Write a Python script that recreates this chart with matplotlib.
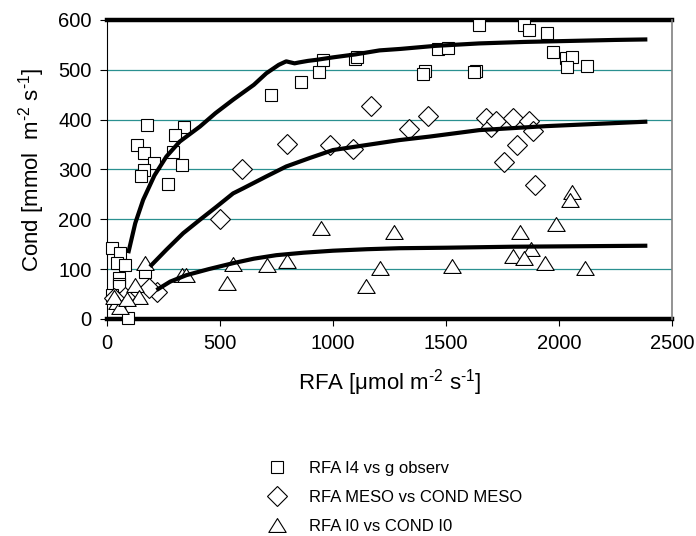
import matplotlib.pyplot as plt
from matplotlib.lines import Line2D
from matplotlib.path import Path

plt.rcParams['font.family'] = ['Liberation Sans', 'DejaVu Sans']
plt.rcParams['mathtext.default'] = 'regular'

# observed points
i4_x = [22, 59, 44, 81, 52, 52, 52, 22, 95, 170, 175, 340, 300, 131, 165, 209, 290, 330,
        165, 150, 271, 727, 857, 936, 958, 1098, 1105, 1463, 1508, 1405, 1397, 1633, 1625,
        1645, 1846, 1868, 1945, 1974, 2030, 2056, 2034, 2126]
i4_y = [142, 132, 112, 108, 82, 71, 66, 48, 1, 95, 389, 386, 369, 350, 334, 314, 336, 310,
        298, 287, 270, 450, 476, 496, 520, 521, 525, 541, 544, 498, 492, 498, 496,
        590, 590, 580, 573, 535, 523, 525, 506, 508]

meso_x = [221, 184, 81, 30, 499, 599, 798, 988, 1088, 1169, 1338, 1419, 1677, 1699, 1721,
          1795, 1868, 1886, 1813, 1758, 1895]
meso_y = [55, 62, 45, 42, 200, 300, 351, 349, 341, 427, 381, 408, 403, 386, 398,
          403, 398, 378, 350, 316, 269]

i0_x = [170, 125, 140, 44, 59, 29, 88, 330, 349, 529, 558, 708, 798, 948, 1147, 1206, 1268,
        1527, 1827, 1875, 1795, 1846, 1938, 1986, 2056, 2048, 2116]
i0_y = [112, 68, 45, 35, 25, 45, 41, 88, 88, 73, 110, 108, 116, 182, 66, 102, 174,
        106, 174, 140, 126, 123, 112, 191, 255, 239, 103]

# fitted curves
fit_i4_x = [94, 125, 160, 210, 263, 322, 411, 480, 558, 650, 705, 760, 793, 830,
            852, 890, 926, 1000, 1100, 1206, 1300, 1450, 1647, 1850, 2050, 2250, 2391]
fit_i4_y = [132, 192, 239, 288, 326, 356, 386, 413, 440, 470, 493, 510, 517, 513,
            515, 518, 520, 525, 531, 539, 542, 548, 553, 556, 558, 560, 561]

fit_meso_x = [190, 263, 337, 411, 484, 558, 602, 705, 793, 897, 1000, 1147, 1294, 1427,
              1647, 1943, 2391]
fit_meso_y = [105, 139, 172, 199, 225, 252, 262, 286, 306, 323, 339, 349, 359, 366,
              379, 387, 396]

fit_i0_x = [219, 280, 352, 450, 558, 650, 749, 870, 1000, 1150, 1294, 1500, 1795, 2100, 2391]
fit_i0_y = [58, 75, 88, 100, 112, 121, 128, 133, 137, 140, 142, 143, 145, 146, 147]

labels = ['RFA I4 vs g observ', 'RFA MESO vs COND MESO', 'RFA I0 vs COND I0']

# flat open triangle, wider than tall
tri = Path([(-1, -0.8), (1, -0.8), (0, 0.8), (-1, -0.8)],
           [Path.MOVETO, Path.LINETO, Path.LINETO, Path.CLOSEPOLY])
styles = [dict(marker='s', ms=9), dict(marker='D', ms=10.2), dict(marker=tri, ms=12.5)]

fig = plt.figure(figsize=(6.96, 5.36), dpi=100)
ax = fig.add_axes([0.1537, 0.4049, 0.8118, 0.5578])
ax.set_xlim(0, 2500)
ax.set_ylim(0, 600)

for v in [100, 200, 300, 400, 500]:
    ax.axhline(v, color='#2a9090', lw=0.9, zorder=1)
for v in [0, 600]:
    ax.axhline(v, color='black', lw=3.2, zorder=2, clip_on=False)

for (xs, ys), st in zip([(i4_x, i4_y), (meso_x, meso_y), (i0_x, i0_y)], styles):
    ax.plot(xs, ys, ls='none', mfc='white', mec='black', mew=0.8, zorder=3,
            clip_on=False, **st)

for xs, ys in [(fit_i4_x, fit_i4_y), (fit_meso_x, fit_meso_y), (fit_i0_x, fit_i0_y)]:
    ax.plot(xs, ys, color='black', lw=3, zorder=4, solid_capstyle='butt')

ax.spines['top'].set_visible(False)
ax.spines['bottom'].set_visible(False)
ax.spines['left'].set_linewidth(0.8)
ax.spines['right'].set_color('#808080')
ax.spines['right'].set_linewidth(1.2)

ax.set_xticks([0, 500, 1000, 1500, 2000, 2500])
ax.set_yticks([0, 100, 200, 300, 400, 500, 600])
ax.tick_params(direction='out', length=5, width=0.8, labelsize=14.5, pad=6)

ax.set_xlabel('RFA [μmol m$^{\u20102}$ s$^{\u20101}$]', fontsize=16, labelpad=10)
ax.set_ylabel('Cond [mmol  m$^{\u20102}$ s$^{\u20101}$]', fontsize=16, labelpad=8)

handles = [Line2D([], [], ls='none', mfc='white', mec='black', mew=0.8, **st) for st in styles]
fig.legend(handles, labels, loc='upper left', bbox_to_anchor=(0.365, 0.153),
           frameon=False, fontsize=12, labelspacing=0.85, handletextpad=0.9,
           borderaxespad=0)

fig.savefig('out.png', dpi=100)
